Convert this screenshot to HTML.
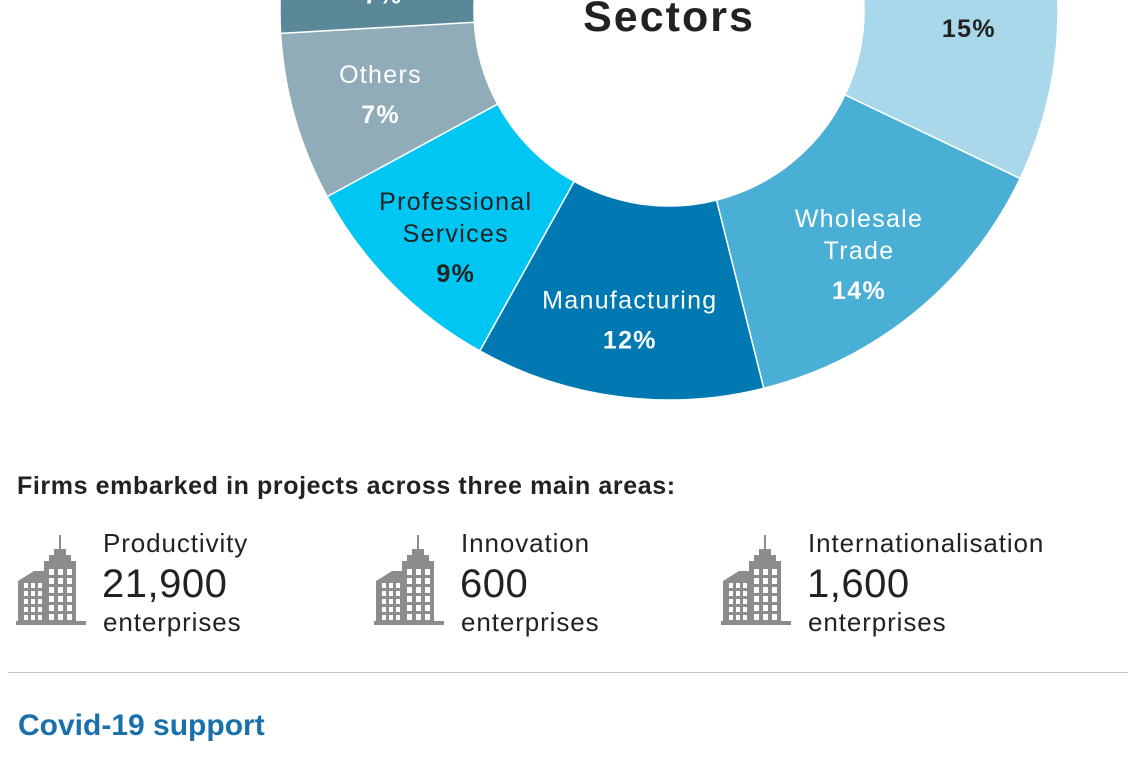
<!DOCTYPE html>
<html><head><meta charset="utf-8"><style>
body{margin:0;width:1140px;height:760px;overflow:hidden;background:#fff;font-family:"Liberation Sans",sans-serif;position:relative}
.t{position:absolute;white-space:nowrap;color:#222}
</style></head><body>
<svg id="chart" width="1140" height="420" style="position:absolute;left:0;top:0"></svg>
<div class="t" style="left:17px;top:472px;font-size:25px;font-weight:bold;letter-spacing:0.6px">Firms embarked in projects across three main areas:</div>
<div id="stats"></div>
<div style="position:absolute;left:8px;top:672px;width:1120px;height:1px;background:#c8c8c8"></div>
<div class="t" style="left:18px;top:709px;font-size:30px;font-weight:bold;color:#1a70aa">Covid-19 support</div>
<script>
const categories=["Retail","Wholesale Trade","Manufacturing","Professional Services","Others","Construction","Rest"];
const values=[15,14,12,9,7,7,36];
const colors=["#a8d8e9","#4aafd4","#0078b1","#00c6f4","#91acb9","#5a8899","#7aa"];
const textColors=["#222","#fff","#fff","#222","#fff","#fff","#fff"];
const statLabels=["Productivity","Innovation","Internationalisation"];
const statValues=["21,900","600","1,600"];
const NS="http://www.w3.org/2000/svg";
const svg=document.getElementById('chart');
const cx=669,cy=11,R=389,r=195,start=-28.5;
const yOff=[10,16,16,20,6,17,16];
const total=values.reduce((a,b)=>a+b,0);
function pt(rad,deg){const a=deg*Math.PI/180;return [cx+rad*Math.cos(a),cy+rad*Math.sin(a)];}
let ang=start;
values.forEach((v,i)=>{
  const a0=ang,a1=ang+v/total*360;ang=a1;
  const large=(a1-a0)>180?1:0;
  const p0=pt(R,a0),p1=pt(R,a1),p2=pt(r,a1),p3=pt(r,a0);
  const p=document.createElementNS(NS,'path');
  p.setAttribute('d',`M${p0}A${R},${R} 0 ${large} 1 ${p1}L${p2}A${r},${r} 0 ${large} 0 ${p3}Z`);
  p.setAttribute('fill',colors[i]);p.setAttribute('stroke','#fff');p.setAttribute('stroke-width','1.5');
  
  
  svg.appendChild(p);
  const m=pt(300,(a0+a1)/2);
  const words=categories[i]==="Wholesale Trade"?["Wholesale","Trade"]:categories[i]==="Professional Services"?["Professional","Services"]:[categories[i]];
  const lines=[...words,v+"%"];
  const y0=m[1]-(lines.length-1)*16+yOff[i];
  lines.forEach((s,j)=>{
    const t=document.createElementNS(NS,'text');
    t.setAttribute('x',i===5?383:m[0]);t.setAttribute('y',y0+j*32+(j==lines.length-1?8:0));
    t.setAttribute('text-anchor','middle');t.setAttribute('font-size','25');
    t.setAttribute('letter-spacing','1.3');
    if(j==lines.length-1)t.setAttribute('font-weight','bold');
    t.setAttribute('fill',textColors[i]);t.setAttribute('font-family','Liberation Sans, sans-serif');
    
    
    t.textContent=s;svg.appendChild(t);
  });
});
const c=document.createElementNS(NS,'text');
c.setAttribute('x',cx);c.setAttribute('y',31);c.setAttribute('text-anchor','middle');
c.setAttribute('font-size','43');c.setAttribute('font-weight','bold');c.setAttribute('fill','#222');
c.setAttribute('letter-spacing','2');
c.setAttribute('font-family','Liberation Sans, sans-serif');


c.textContent='Sectors';svg.appendChild(c);
let win='';
for(let k=0;k<6;k++){win+=`<rect x="33" y="${34+k*9}" width="5" height="6"/><rect x="42" y="${34+k*9}" width="5" height="6"/><rect x="51" y="${34+k*9}" width="5" height="6"/>`;}
for(let k=0;k<5;k++){win+=`<rect x="8" y="${48+k*8}" width="4" height="5"/><rect x="15" y="${48+k*8}" width="4" height="5"/><rect x="22" y="${48+k*8}" width="4" height="5"/>`;}
const icon=`<svg width="70" height="92" viewBox="0 0 70 92"><g fill="#8c8c8c"><rect x="43" y="0" width="2" height="16"/><rect x="38" y="14" width="12" height="8"/><rect x="33" y="20" width="22" height="10"/><rect x="28" y="26" width="32" height="64"/><path d="M2 46 L18 36 L30 36 L30 90 L2 90Z"/><rect x="0" y="86" width="70" height="4"/></g><g fill="#fff">${win}</g></svg>`;
const xs=[16,374,721];
const host=document.getElementById('stats');
statLabels.forEach((l,i)=>{
  const d=document.createElement('div');
  
  
  d.style.cssText=`position:absolute;left:${xs[i]}px;top:535px;width:380px;height:100px`;
  d.innerHTML=`<div style="position:absolute;left:0;top:0">${icon}</div>
  <div class="t" style="left:87px;top:-7px;font-size:26px;letter-spacing:0.9px">${l}</div>
  <div class="t" style="left:86px;top:27px;font-size:40px;letter-spacing:0.5px">${statValues[i]}</div>
  <div class="t" style="left:87px;top:72px;font-size:26px;letter-spacing:0.9px">enterprises</div>`;
  host.appendChild(d);
});
</script>
</body></html>
